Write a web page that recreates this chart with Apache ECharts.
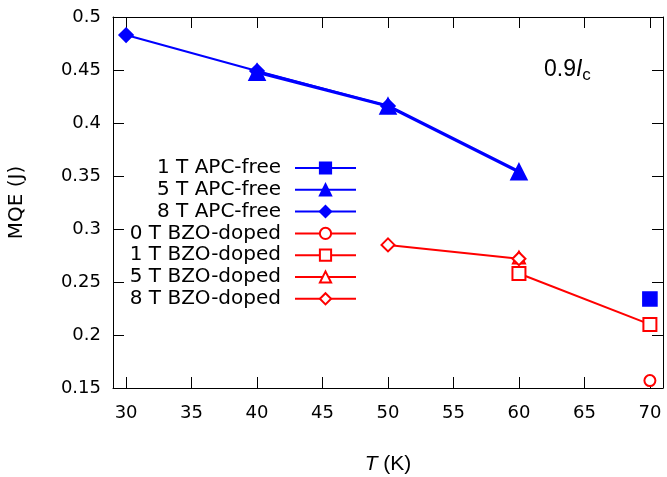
<!DOCTYPE html>
<html>
<head>
<meta charset="utf-8">
<script src="https://cdn.jsdelivr.net/npm/echarts@6/dist/echarts.min.js"></script>
<style>html,body{margin:0;padding:0;background:#fff}#c{width:667px;height:477px}</style>
</head>
<body>
<div id="c"></div>
<script>
var xTicks = [30, 35, 40, 45, 50, 55, 60, 65, 70];
var yTicks = [0.15, 0.2, 0.25, 0.3, 0.35, 0.4, 0.45, 0.5];

var apc1T = [[70, 0.234]];
var apc5T = [[40, 0.448], [50, 0.416], [60, 0.354]];
var apc8T = [[30, 0.483], [40, 0.449], [50, 0.416]];
var bzo0T = [[70, 0.157]];
var bzo1T = [[60, 0.258], [70, 0.210]];
var bzo5T = [[60, 0.273]];
var bzo8T = [[50, 0.285], [60, 0.272]];

var BLUE = '#0000ff', RED = '#ff0000';
var FONT = 'DejaVu Sans';

function mk(name, data, color, symbol, size, width) {
  return {
    name: name, type: 'line', data: data, symbol: symbol, symbolSize: size,
    showSymbol: true, animation: false,
    lineStyle: {color: color, width: width},
    itemStyle: {color: color, borderColor: color, borderWidth: 1.6}
  };
}

var chart = echarts.init(document.getElementById('c'));
var axisCommon = {
  axisLine: {show: true, onZero: false, lineStyle: {color: '#000', width: 1}},
  splitLine: {show: false}
};
chart.setOption({
  animation: false,
  backgroundColor: '#fff',
  grid: {left: 113, right: 4, top: 17, bottom: 89, show: false, containLabel: false, outerBoundsMode: 'none'},
  xAxis: [
    Object.assign({}, axisCommon, {
      type: 'value', min: 29, max: 71, position: 'bottom',
      axisTick: {show: true, inside: true, length: 11, customValues: xTicks, lineStyle: {color: '#000'}},
      axisLabel: {customValues: xTicks, margin: 16, fontFamily: FONT, fontSize: 18, color: '#000'},
      name: '{i|T} (K)', nameLocation: 'middle', nameGap: 66,
      nameTextStyle: {fontFamily: 'Liberation Sans', fontSize: 21, color: '#000',
        rich: {i: {fontFamily: 'Liberation Sans', fontStyle: 'italic', fontSize: 21, color: '#000'}}}
    }),
    Object.assign({}, axisCommon, {
      type: 'value', min: 29, max: 71, position: 'top',
      axisTick: {show: true, inside: true, length: 11, customValues: xTicks, lineStyle: {color: '#000'}},
      axisLabel: {show: false}
    })
  ],
  yAxis: [
    Object.assign({}, axisCommon, {
      type: 'value', min: 0.15, max: 0.5, position: 'left',
      axisTick: {show: true, inside: true, length: 11, customValues: yTicks, lineStyle: {color: '#000'}},
      axisLabel: {customValues: yTicks, margin: 12, fontFamily: FONT, fontSize: 18, color: '#000'},
      name: 'MQE (J)', nameLocation: 'middle', nameGap: 86,
      nameTextStyle: {fontFamily: FONT, fontSize: 20, color: '#000'}
    }),
    Object.assign({}, axisCommon, {
      type: 'value', min: 0.15, max: 0.5, position: 'right',
      axisTick: {show: true, inside: true, length: 11, customValues: yTicks, lineStyle: {color: '#000'}},
      axisLabel: {show: false}
    })
  ],
  legend: {
    orient: 'vertical', align: 'right', right: 310, top: 158, padding: 0,
    itemWidth: 61, itemHeight: 14, itemGap: 1.8,
    textStyle: {fontFamily: FONT, fontSize: 20, color: '#000', lineHeight: 16, padding: [0, 9, 0, 0]},
    data: ['1 T APC-free', '5 T APC-free', '8 T APC-free', '0 T BZO-doped', '1 T BZO-doped', '5 T BZO-doped', '8 T BZO-doped']
  },
  graphic: [{
    type: 'text', left: 544, top: 58,
    style: {
      text: '{a|0.9}{b|I}{c|c}',
      rich: {
        a: {fontFamily: 'Liberation Sans', fontSize: 23, fill: '#000'},
        b: {fontFamily: 'Liberation Sans', fontSize: 23, fontStyle: 'italic', fill: '#000'},
        c: {fontFamily: 'Liberation Sans', fontSize: 17, fill: '#000', padding: [11, 0, 0, 0]}
      }
    }
  }],
  series: [
    mk('1 T APC-free', apc1T, BLUE, 'rect', 14, 2),
    mk('5 T APC-free', apc5T, BLUE, 'triangle', 16, 3.2),
    mk('8 T APC-free', apc8T, BLUE, 'diamond', 14, 2),
    mk('0 T BZO-doped', bzo0T, RED, 'emptyCircle', 11, 2),
    mk('1 T BZO-doped', bzo1T, RED, 'emptyRect', 13, 2),
    mk('5 T BZO-doped', bzo5T, RED, 'emptyTriangle', 12, 2),
    mk('8 T BZO-doped', bzo8T, RED, 'emptyDiamond', 13, 2)
  ]
});
</script>
</body>
</html>
